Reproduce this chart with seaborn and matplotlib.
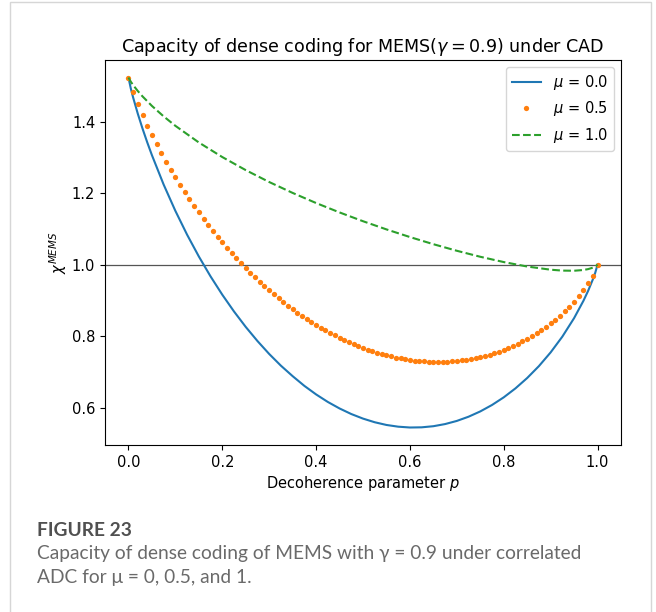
import numpy as np
import pandas as pd
import matplotlib
matplotlib.use("Agg")
import matplotlib.pyplot as plt
import seaborn as sns
from matplotlib.patches import Rectangle

# ---- data (decoherence parameter p vs capacity chi) ----
p_mu0 = [0.0, 0.005, 0.01, 0.02, 0.03, 0.04, 0.05, 0.075, 0.1, 0.125, 0.15, 0.175,
         0.2, 0.225, 0.25, 0.275, 0.3, 0.325, 0.35, 0.375, 0.4, 0.425, 0.45, 0.475,
         0.5, 0.525, 0.55, 0.575, 0.6, 0.625, 0.65, 0.675, 0.7, 0.725, 0.75, 0.775,
         0.8, 0.825, 0.85, 0.875, 0.9, 0.925, 0.95, 0.97, 0.98, 0.99, 0.995, 1.0]
chi_mu0 = [1.5238, 1.4931, 1.4676, 1.4221, 1.3808, 1.3425, 1.3065, 1.2242, 1.1506,
           1.0839, 1.0230, 0.9672, 0.9160, 0.8690, 0.8258, 0.7863, 0.7501, 0.7173,
           0.6880, 0.6608, 0.6369, 0.6158, 0.5976, 0.5820, 0.5692, 0.5590, 0.5514,
           0.5466, 0.5443, 0.5448, 0.5479, 0.5539, 0.5627, 0.5745, 0.5893, 0.6073,
           0.6287, 0.6538, 0.6828, 0.7161, 0.7545, 0.7987, 0.8504, 0.8991, 0.9270,
           0.9588, 0.9771, 1.0000]

p_mu05 = np.linspace(0.0, 1.0, 101)
chi_mu05 = [1.5238, 1.4824, 1.4486, 1.4179, 1.3893, 1.3623, 1.3368, 1.3122, 1.2886, 1.2660,
            1.2443, 1.2234, 1.2031, 1.1835, 1.1645, 1.1461, 1.1284, 1.1111, 1.0943, 1.0780,
            1.0622, 1.0470, 1.0321, 1.0177, 1.0037, 0.9901, 0.9769, 0.9641, 0.9518, 0.9398,
            0.9283, 0.9171, 0.9062, 0.8957, 0.8855, 0.8756, 0.8661, 0.8569, 0.8481, 0.8396,
            0.8314, 0.8236, 0.8160, 0.8088, 0.8019, 0.7953, 0.7890, 0.7830, 0.7774, 0.7720,
            0.7670, 0.7623, 0.7578, 0.7537, 0.7498, 0.7463, 0.7431, 0.7402, 0.7375, 0.7352,
            0.7332, 0.7315, 0.7301, 0.7291, 0.7283, 0.7279, 0.7278, 0.7280, 0.7285, 0.7293,
            0.7304, 0.7319, 0.7337, 0.7359, 0.7385, 0.7414, 0.7447, 0.7484, 0.7524, 0.7568,
            0.7616, 0.7667, 0.7723, 0.7784, 0.7850, 0.7921, 0.7997, 0.8079, 0.8165, 0.8257,
            0.8354, 0.8458, 0.8570, 0.8692, 0.8823, 0.8962, 0.9112, 0.9284, 0.9474, 0.9695,
            1.0000]

p_mu1 = [0.0, 0.005, 0.01, 0.02, 0.03, 0.05, 0.075, 0.1, 0.15, 0.2, 0.25, 0.3, 0.35,
         0.4, 0.45, 0.5, 0.55, 0.6, 0.65, 0.7, 0.75, 0.8, 0.85, 0.9, 0.925, 0.95, 0.97,
         0.98, 0.99, 0.995, 1.0]
chi_mu1 = [1.5238, 1.5120, 1.5025, 1.4858, 1.4709, 1.4443, 1.4150, 1.3886, 1.3420, 1.3012,
           1.2646, 1.2313, 1.2008, 1.1725, 1.1462, 1.1216, 1.0987, 1.0773, 1.0573, 1.0389,
           1.0221, 1.0073, 0.9948, 0.9859, 0.9834, 0.9830, 0.9851, 0.9876, 0.9916, 0.9947,
           1.0000]

labels = [r"$\mu$ = 0.0", r"$\mu$ = 0.5", r"$\mu$ = 1.0"]
x_ticks = [0.0, 0.2, 0.4, 0.6, 0.8, 1.0]
y_ticks = [0.6, 0.8, 1.0, 1.2, 1.4]
title = r"Capacity of dense coding for MEMS($\gamma = 0.9$) under CAD"
xlabel = r"Decoherence parameter $p$"
ylabel = r"$\chi^{MEMS}$"
fig_label = "FIGURE 23"
caption_1 = "Capacity of dense coding of MEMS with \u03b3 = 0.9 under correlated"
caption_2 = "ADC for \u03bc = 0, 0.5, and 1."

plt.rcParams["font.family"] = ["DejaVu Sans"]
plt.rcParams["mathtext.fontset"] = "dejavusans"

# ---- figure ----
W, H = 656, 612
fig = plt.figure(figsize=(W / 100, H / 100), dpi=100)
fig.patch.set_facecolor("white")

# card border
fig.patches.append(Rectangle((10 / W, -0.05), 641 / W, 1.05 - 2 / H,
                             transform=fig.transFigure, fill=False,
                             edgecolor="#d6d6d6", lw=1.0))

ax = fig.add_axes([105 / W, 1 - 445 / H, 516 / W, 385 / H])

sns.lineplot(x=p_mu0, y=chi_mu0, ax=ax, color="#1f77b4", lw=1.5,
             label=labels[0], estimator=None, sort=False)
sns.lineplot(x=p_mu05, y=chi_mu05, ax=ax, color="#ff7f0e", marker="o",
             markersize=3.8, markeredgewidth=0, linestyle="", label=labels[1],
             estimator=None, sort=False)
sns.lineplot(x=p_mu1, y=chi_mu1, ax=ax, color="#2ca02c", lw=1.5,
             linestyle="--", label=labels[2], estimator=None, sort=False)
ax.axhline(1.0, color="#555555", lw=0.9, zorder=0)

ax.set_xticks(x_ticks)
ax.set_yticks(y_ticks)
ax.margins(x=0.05, y=0.05)
ax.tick_params(labelsize=10.5, length=3.5, width=0.8)
for s in ax.spines.values():
    s.set_linewidth(0.8)
    s.set_color("black")
ax.set_title(title, fontsize=12.6, pad=6)
ax.set_xlabel(xlabel, fontsize=10.5, labelpad=3)
ax.set_ylabel(ylabel, fontsize=10.5, labelpad=2)
leg = ax.legend(loc="upper right", fontsize=10.5)

cap_font = ["Lato", "DejaVu Sans"]
fig.text(37 / W, 1 - 530 / H, fig_label, fontsize=13.8, fontweight="bold",
         color="#505050", va="center", ha="left", family=cap_font)
fig.text(37 / W, 1 - 554 / H, caption_1, fontsize=13.8, color="#6a6a6a",
         va="center", ha="left", family=cap_font)
fig.text(37 / W, 1 - 578 / H, caption_2, fontsize=13.8, color="#6a6a6a",
         va="center", ha="left", family=cap_font)

fig.savefig("out.png", dpi=100)
